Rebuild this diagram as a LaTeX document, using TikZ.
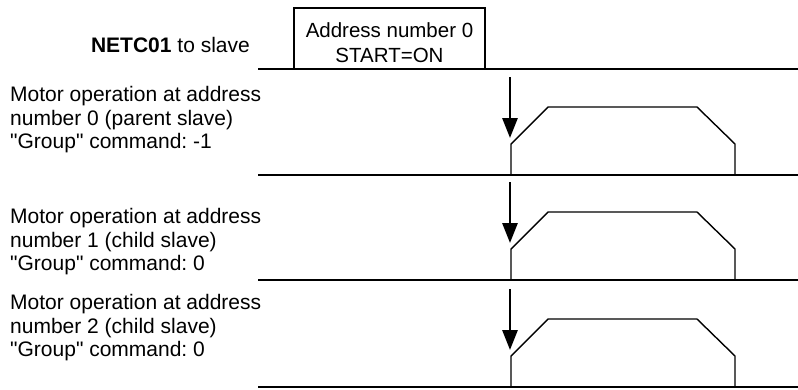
\documentclass[tikz,border=0pt]{standalone}
\usepackage{fontspec}
\setmainfont{Liberation Sans}
\usetikzlibrary{arrows.meta}
\frenchspacing
\begin{document}
\begin{tikzpicture}[x=1pt,y=-1pt,
  sig/.style={line width=1.4pt, line join=miter},
  lbl/.style={anchor=west, align=left, inner sep=0pt, font=\fontsize{21}{23.5}\selectfont},
  trig/.style={line width=2.8pt, -{Triangle[width=15pt,length=20pt]}}]
\useasboundingbox (0,0) rectangle (798,389);
% top signal
\draw[sig] (258,69) -- (798,69);
\draw[sig] (294,69) -- (294,8) -- (485,8) -- (485,69);
\node[inner sep=0pt, align=center, font=\fontsize{20.5}{24.5}\selectfont] (cmd) at (389.5,42.5) {Address number 0\\START=ON};
\node[anchor=east, inner sep=0pt, font=\fontsize{21}{23.5}\selectfont] (netc) at (250,45) {\textbf{NETC01} to slave};
% profiles
\foreach \b/\n in {175/a,280/b,387/c}{
  \draw[sig] (258,\b) -- (798,\b);
  \draw[sig] (511,\b) -- (511,\b-31) -- (548,\b-68) -- (697,\b-68) -- (735,\b-31) -- (735,\b);
  \coordinate (s\n) at (510,\b-98);
  \coordinate (e\n) at (510,\b-37);
  \draw[trig] (s\n) -- (e\n);
}
\node[lbl] (la) at (10,120) {Motor operation at address\\number 0 (parent slave)\\\textquotedbl Group\textquotedbl{} command: -1};
\node[lbl] (lb) at (10,242) {Motor operation at address\\number 1 (child slave)\\\textquotedbl Group\textquotedbl{} command: 0};
\node[lbl] (lc) at (10,328) {Motor operation at address\\number 2 (child slave)\\\textquotedbl Group\textquotedbl{} command: 0};
\end{tikzpicture}
\end{document}
